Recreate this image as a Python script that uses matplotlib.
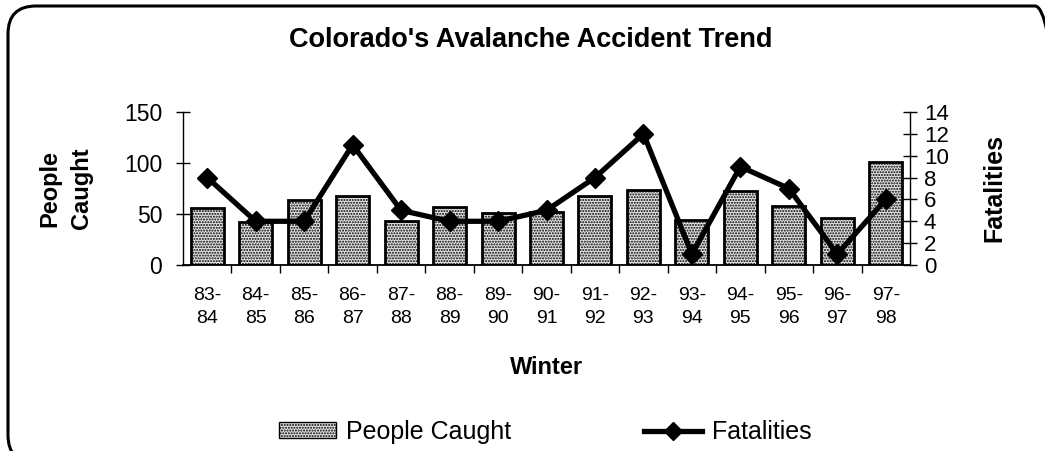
import matplotlib.pyplot as plt
from matplotlib.patches import FancyBboxPatch
from matplotlib.lines import Line2D
from matplotlib.patches import Patch

plt.rcParams['font.family'] = ['Liberation Sans', 'DejaVu Sans']
plt.rcParams['hatch.linewidth'] = 1.0

winters = ["83-\n84", "84-\n85", "85-\n86", "86-\n87", "87-\n88", "88-\n89",
           "89-\n90", "90-\n91", "91-\n92", "92-\n93", "93-\n94", "94-\n95",
           "95-\n96", "96-\n97", "97-\n98"]
people_caught = [56, 42, 64, 68, 43, 57, 51, 52, 68, 74, 44, 73, 58, 46, 101]
fatalities = [8, 4, 4, 11, 5, 4, 4, 5, 8, 12, 1, 9, 7, 1, 6]

fig = plt.figure(figsize=(10.45, 4.51), dpi=100)
W, H = 1045, 451

# rounded border, in inches; runs off the right/bottom edge like the scan
box = FancyBboxPatch((0.08, -0.12), 10.55, 4.57,
                     boxstyle="round,pad=0,rounding_size=0.28",
                     transform=fig.dpi_scale_trans, fill=False, lw=2.2,
                     edgecolor='black')
fig.patches.append(box)

ax = fig.add_axes([183 / W, 1 - 265 / H, (910 - 183) / W, (265 - 112) / H])
x = list(range(len(winters)))
ax.bar(x, people_caught, width=0.68, facecolor='#e4e4e4', edgecolor='black',
       linewidth=2.0, hatch='......', zorder=2)
ax.set_xlim(-0.5, len(winters) - 0.5)
ax.set_ylim(0, 150)
ax.set_yticks([0, 50, 100, 150])
ax.tick_params(axis='y', direction='inout', length=10, width=1, labelsize=16.5, pad=10)
ax.set_xticks(x)
ax.set_xticklabels(winters, fontsize=14, linespacing=1.45)
ax.tick_params(axis='x', length=0, pad=16)
ax.set_xticks([i - 0.5 for i in range(1, len(winters))], minor=True)
ax.tick_params(axis='x', which='minor', direction='out', length=6, width=1)
ax.spines['top'].set_visible(False)
ax.spines['right'].set_visible(False)
ax.spines['left'].set_linewidth(1)
ax.spines['bottom'].set_linewidth(1.3)
ax.set_xlabel("Winter", fontsize=17, fontweight='bold', labelpad=21)
ax.set_ylabel("People\nCaught", fontsize=17, fontweight='bold', labelpad=22,
              linespacing=1.5)

ax2 = ax.twinx()
ax2.plot(x, fatalities, color='black', lw=3.8, marker='D', markersize=10, zorder=3)
ax2.set_ylim(0, 14)
ax2.set_yticks(range(0, 15, 2))
ax2.tick_params(axis='y', direction='inout', length=10, width=1, labelsize=16, pad=5)
ax2.spines['top'].set_visible(False)
ax2.spines['left'].set_visible(False)
ax2.spines['bottom'].set_visible(False)
ax2.spines['right'].set_linewidth(1)
ax2.set_ylabel("Fatalities", fontsize=18, fontweight='bold', labelpad=24)

fig.text(531 / W, 1 - 40 / H, "Colorado's Avalanche Accident Trend",
         ha='center', va='center', fontsize=19.5, fontweight='bold')

handles = [Patch(facecolor='#e4e4e4', edgecolor='black', hatch='......', lw=1),
           Line2D([], [], color='black', lw=3.8, marker='D', markersize=9)]
fig.legend(handles, ["People Caught", "Fatalities"], loc='center',
           bbox_to_anchor=(545 / W, 1 - 432 / H), ncol=2, frameon=False,
           fontsize=18, handlelength=2.3, handleheight=0.6,
           columnspacing=5.3, handletextpad=0.4)

fig.savefig("out.png", dpi=100)
